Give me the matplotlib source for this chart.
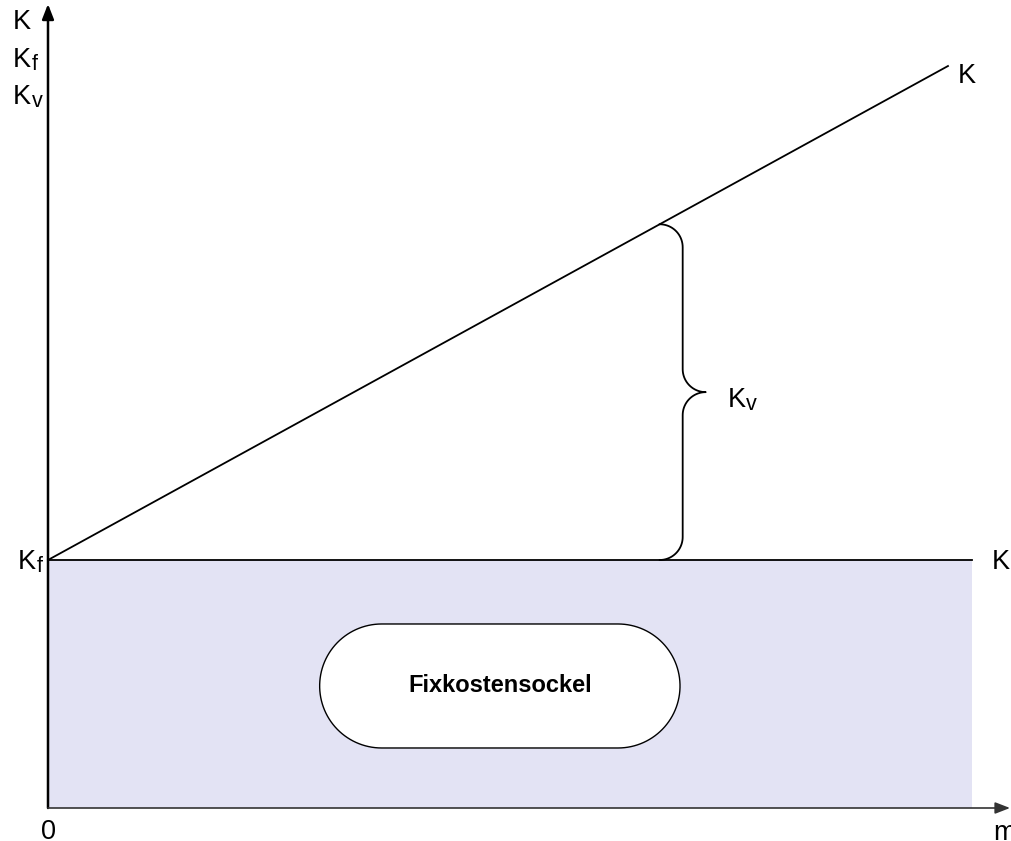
import numpy as np
import matplotlib.pyplot as plt

# cost model (fixed costs + variable costs per unit)
m_range = [0, 100]          # output quantity range of the fixed cost block
fixed_cost = 100            # K_f
var_cost_per_unit = 2.045   # k_v
m_line = [0, 97.4]          # extent of the total cost line K
m_brace = 66.2              # where the K_v brace is drawn
box_m = [29.4, 68.4]        # "Fixkostensockel" label box
box_k = [24.2, 74.2]

plt.rcParams['font.family'] = ['Liberation Sans', 'DejaVu Sans']

fig = plt.figure(figsize=(10.12, 8.41), dpi=100)
ax = fig.add_axes([0, 0, 1, 1])
# pixel mapping: x px = 48 + m*9.24, y px (from top) = 808 - K*2.48
px_x, px_y = 9.24, 2.48
ax.set_xlim(-48 / px_x, (1012 - 48) / px_x)
ax.set_ylim(-(841 - 808) / px_y, 808 / px_y)
ax.axis('off')

# fixed cost block
ax.fill_between(m_range, 0, fixed_cost, color='#e3e3f4', lw=0, zorder=1)
ax.plot(m_range, [fixed_cost, fixed_cost], color='black', lw=1.3, zorder=3)

# total cost line
m = np.array(m_line)
K = fixed_cost + var_cost_per_unit * m
ax.plot(m, K, color='black', lw=1.3, zorder=3)

# axes with arrows
ax.annotate('', xy=(0, 804 / px_y), xytext=(0, 0), annotation_clip=False,
            arrowprops=dict(arrowstyle='-|>,head_length=0.9,head_width=0.35',
                            color='black', lw=1.8, shrinkA=0, shrinkB=0), zorder=4)
ax.annotate('', xy=((1010 - 48) / px_x, 0), xytext=(0, 0), annotation_clip=False,
            arrowprops=dict(arrowstyle='-|>,head_length=0.9,head_width=0.35',
                            color='#333333', lw=1.2, shrinkA=0, shrinkB=0), zorder=4)

# curly brace for K_v (built in pixel units, converted to data)
k_top = fixed_cost + var_cost_per_unit * m_brace
y0 = k_top * px_y
y1 = fixed_cost * px_y
ym = (y0 + y1) / 2
bx = m_brace * px_x
r = 23
t = np.linspace(0, np.pi / 2, 20)
pts = []
pts += list(zip(bx + r * np.sin(t), y0 - r + r * np.cos(t)))
pts += list(zip([bx + r], [ym + r]))
pts += list(zip(bx + r + r * (1 - np.cos(t)), ym + r - r * np.sin(t)))
pts += list(zip(bx + r + r * (1 - np.cos(t[::-1])), ym - r + r * np.sin(t[::-1])))
pts += list(zip([bx + r], [y1 + r]))
pts += list(zip(bx + r * np.sin(t[::-1]), y1 + r - r * np.cos(t[::-1])))
pts = np.array(pts)
ax.plot(pts[:, 0] / px_x, pts[:, 1] / px_y, color='black', lw=1.3, zorder=3)

# stadium-shaped label box (semicircle ends, built in pixel units)
bx0, bx1 = box_m[0] * px_x, box_m[1] * px_x
by0, by1 = box_k[0] * px_y, box_k[1] * px_y
rad = (by1 - by0) / 2
cy = (by0 + by1) / 2
a = np.linspace(-np.pi / 2, np.pi / 2, 60)
sx = np.concatenate([bx1 - rad + rad * np.cos(a), bx0 + rad - rad * np.cos(a)])
sy = np.concatenate([cy + rad * np.sin(a), cy - rad * np.sin(a)])
ax.fill(sx / px_x, sy / px_y, facecolor='white', edgecolor='black', lw=1.0, zorder=4)
ax.text(np.mean(box_m), np.mean(box_k), 'Fixkostensockel', ha='center', va='center',
        fontsize=17, fontweight='bold', zorder=5)

# texts
fs = 19.5


def label(x, y, main, sub=None):
    # main letter plus a larger-than-mathtext subscript, left anchored
    ax.text(x, y, main, fontsize=fs, va='center', ha='left')
    if sub:
        ax.annotate(sub, (x, y), xytext=(13.3, -3.5), textcoords='offset points',
                    fontsize=fs * 0.8, va='center', ha='left', annotation_clip=False)


label(-35 / px_x, (808 - 22) / px_y, 'K')
label(-35 / px_x, (808 - 60) / px_y, 'K', 'f')
label(-35 / px_x, (808 - 97) / px_y, 'K', 'v')
label(-30 / px_x, fixed_cost - 2 / px_y, 'K', 'f')
label((992 - 48) / px_x, fixed_cost - 2 / px_y, 'K', 'f')
label(m[-1] + 10 / px_x, K[-1] - 10 / px_y, 'K')
label(m_brace + 68 / px_x, (808 - 400) / px_y, 'K', 'v')
ax.text(0, -24 / px_y, '0', fontsize=fs, va='center', ha='center')
ax.text((993 - 48) / px_x, -25 / px_y, 'm', fontsize=fs, va='center', ha='left')

fig.savefig('out.png', dpi=100)
